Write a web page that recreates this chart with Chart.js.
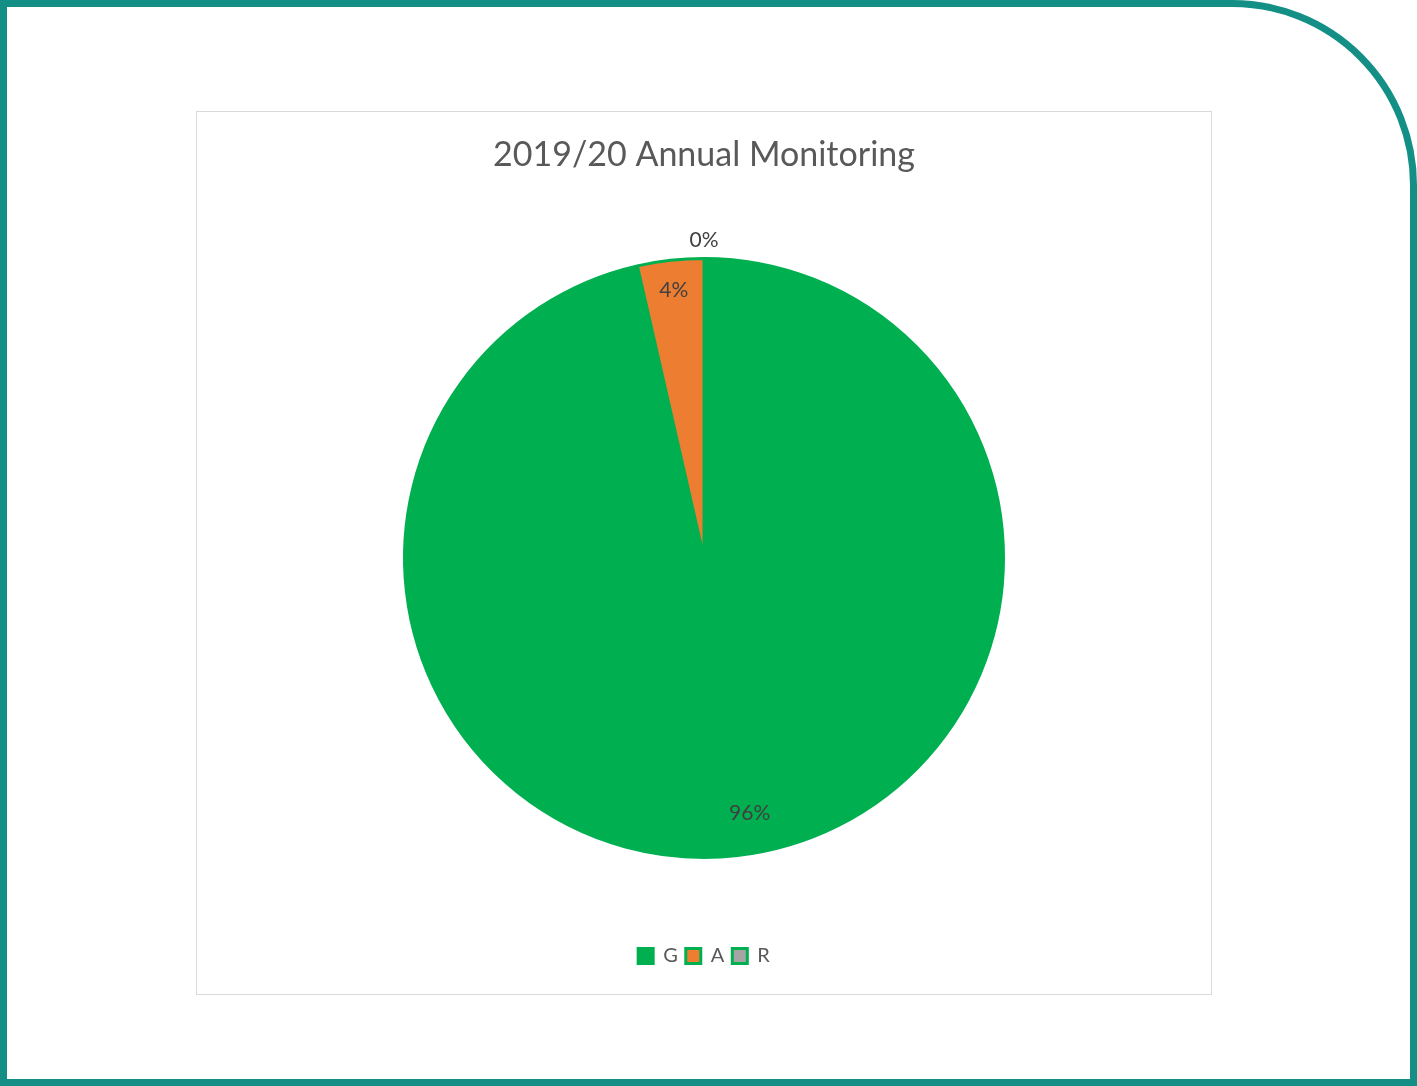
<!DOCTYPE html>
<html lang="en">
<head>
  <meta charset="UTF-8">
  <title>2019/20 Annual Monitoring</title>
  <script src="https://cdn.jsdelivr.net/npm/chart.js"></script>
  <style>
    html, body { margin: 0; padding: 0; background: #fff; }
    .frame {
      position: absolute; left: 0; top: 0; width: 1417px; height: 1086px;
      box-sizing: border-box; border: 7px solid #138f86;
      border-top-right-radius: 185px;
    }
    .box {
      position: absolute; left: 196px; top: 111px; width: 1016px; height: 884px;
      box-sizing: border-box; border: 1px solid #d9d9d9; background: #fff;
    }
    .box canvas { display: block; }
  </style>
</head>
<body>
  <div class="frame"></div>
  <div class="box">
    <canvas id="pieChart" width="1014" height="882"></canvas>
  </div>

  <script>
    // RAG status counts
    const categories = ['G', 'A', 'R'];
    const counts = [27, 1, 0];
    const sliceColors = ['#00b050', '#ed7d31', '#a5a5a5'];

    const total = counts.reduce((a, b) => a + b, 0);

    // percentage labels on / beside each slice
    const pctLabels = {
      id: 'pctLabels',
      afterDatasetsDraw(chart) {
        const ctx = chart.ctx;
        const arcs = chart.getDatasetMeta(0).data;
        ctx.save();
        ctx.font = '21px Lato, "Open Sans", sans-serif';
        ctx.fillStyle = '#404040';
        ctx.textAlign = 'center';
        ctx.textBaseline = 'middle';
        arcs.forEach((arc, i) => {
          const pct = counts[i] / total * 100;
          let mid = (arc.startAngle + arc.endAngle) / 2;
          let k = 0.865;
          if (pct === 0) k = 1.06;
          else if (pct < 10) k = 0.9;
          else mid -= 0.065;
          const r = arc.outerRadius * k;
          ctx.fillText(Math.round(pct) + '%', arc.x + Math.cos(mid) * r, arc.y + Math.sin(mid) * r);
        });
        ctx.restore();
      }
    };

    new Chart(document.getElementById('pieChart'), {
      type: 'pie',
      data: {
        labels: categories,
        datasets: [{
          data: counts,
          backgroundColor: sliceColors,
          borderColor: '#00b050',
          borderWidth: 3
        }]
      },
      options: {
        responsive: false,
        animation: false,
        layout: { padding: { left: 206, right: 206, top: 0, bottom: 18 } },
        plugins: {
          title: {
            display: true,
            text: '2019/20 Annual Monitoring',
            color: '#595959',
            font: { family: 'Lato, "Open Sans", sans-serif', size: 34, weight: 'normal' },
            padding: { top: 23, bottom: 2 }
          },
          legend: {
            position: 'bottom',
            labels: {
              color: '#595959',
              font: { family: 'Lato, "Open Sans", sans-serif', size: 20 },
              boxWidth: 15,
              boxHeight: 15,
              padding: 8
            }
          },
          tooltip: { enabled: false }
        }
      },
      plugins: [pctLabels]
    });
  </script>
</body>
</html>
